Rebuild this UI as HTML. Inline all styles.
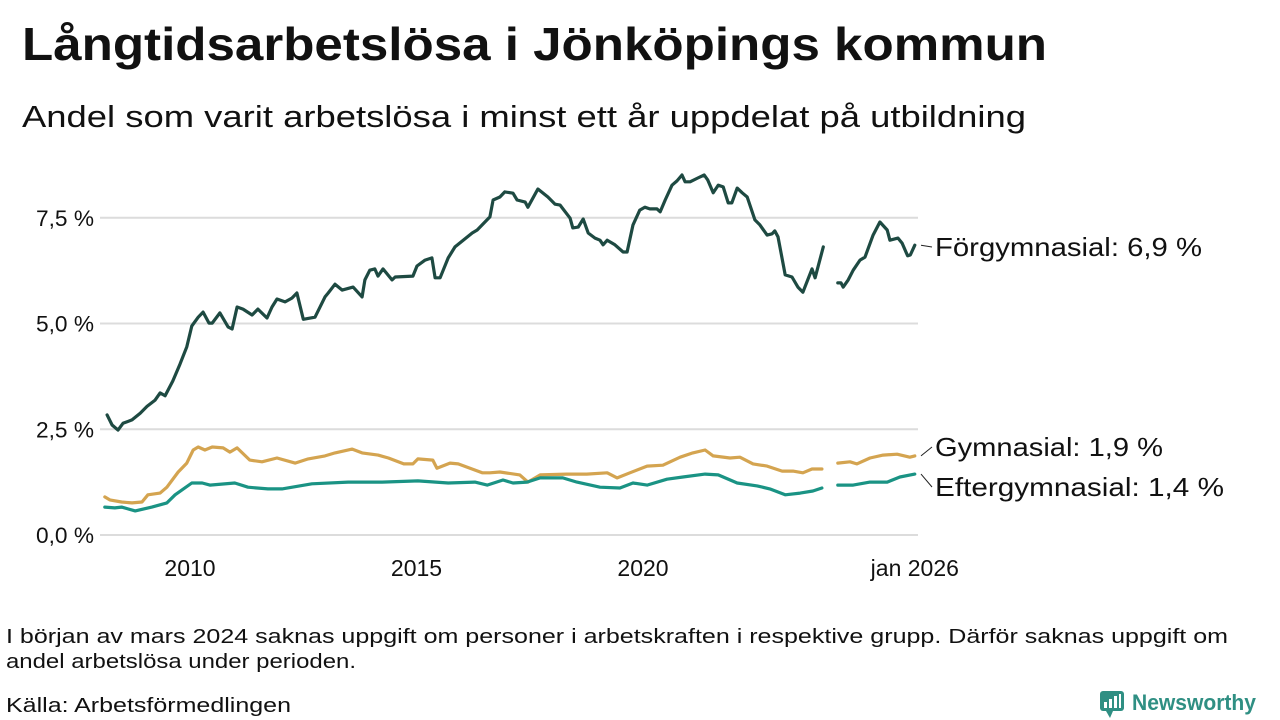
<!DOCTYPE html>
<html><head><meta charset="utf-8">
<style>
html,body{margin:0;padding:0;background:#fff;width:1280px;height:720px;overflow:hidden}
svg{display:block;font-family:"Liberation Sans","DejaVu Sans",sans-serif}
</style></head>
<body>
<svg id="chart" width="1280" height="720" viewBox="0 0 1280 720">
<text x="22" y="60" font-size="46" font-weight="bold" fill="#111" textLength="1025" lengthAdjust="spacingAndGlyphs">Långtidsarbetslösa i Jönköpings kommun</text>
<text x="22" y="127" font-size="31" fill="#111" textLength="1004" lengthAdjust="spacingAndGlyphs">Andel som varit arbetslösa i minst ett år uppdelat på utbildning</text>
<g id="grid"></g>
<g id="yticks"></g>
<g id="xticks"></g>
<g id="series"></g>
<g id="labels"></g>
<text font-size="20" fill="#111"><tspan x="6" y="643" textLength="1222" lengthAdjust="spacingAndGlyphs">I början av mars 2024 saknas uppgift om personer i arbetskraften i respektive grupp. Därför saknas uppgift om</tspan><tspan x="6" y="668" textLength="350" lengthAdjust="spacingAndGlyphs">andel arbetslösa under perioden.</tspan></text>
<text x="6" y="712" font-size="20" fill="#111" textLength="285" lengthAdjust="spacingAndGlyphs">Källa: Arbetsförmedlingen</text>
<g>
<rect x="1100" y="691" width="24" height="20" rx="3" fill="#2f8f83"/>
<path d="M1106 711 L1110 718 L1113 711 Z" fill="#2f8f83"/>
<rect x="1104" y="702" width="3" height="6" fill="#fff"/><rect x="1109" y="699" width="3" height="9" fill="#fff"/><rect x="1114" y="696" width="3" height="12" fill="#fff"/><rect x="1119" y="694" width="2" height="14" fill="#fff"/>
<text x="1132" y="710" font-size="22" font-weight="bold" fill="#2f8f83" textLength="124" lengthAdjust="spacingAndGlyphs">Newsworthy</text>
</g>
</svg>
<script>
const yTicks = [0, 2.5, 5, 7.5];
const yTickLabels = ["0,0 %", "2,5 %", "5,0 %", "7,5 %"];
const xTicks = [2010, 2015, 2020, 2026];
const xTickLabels = ["2010", "2015", "2020", "jan 2026"];

const forDates = [2008.17,2008.28,2008.41,2008.52,2008.72,2008.90,2009.05,2009.23,2009.34,2009.45,2009.62,2009.78,2009.93,2010.04,2010.18,2010.29,2010.42,2010.49,2010.66,2010.84,2010.93,2011.04,2011.17,2011.37,2011.50,2011.70,2011.81,2011.92,2012.10,2012.25,2012.36,2012.50,2012.76,2012.98,2013.05,2013.20,2013.36,2013.60,2013.80,2013.86,2013.97,2014.08,2014.15,2014.26,2014.46,2014.53,2014.92,2015.01,2015.19,2015.34,2015.41,2015.52,2015.59,2015.70,2015.85,2016.23,2016.34,2016.62,2016.69,2016.84,2016.95,2017.13,2017.22,2017.40,2017.46,2017.68,2017.90,2018.06,2018.17,2018.39,2018.45,2018.57,2018.68,2018.79,2018.94,2019.05,2019.12,2019.21,2019.38,2019.56,2019.65,2019.78,2019.93,2020.04,2020.15,2020.31,2020.38,2020.49,2020.64,2020.75,2020.86,2020.93,2021.04,2021.21,2021.35,2021.43,2021.55,2021.66,2021.77,2021.88,2021.96,2022.08,2022.19,2022.30,2022.47,2022.58,2022.74,2022.85,2022.91,2022.98,2023.14,2023.29,2023.42,2023.53,2023.73,2023.80,2023.98,2024.15,2024.30,2024.37,2024.42,2024.53,2024.64,2024.79,2024.90,2025.08,2025.23,2025.39,2025.45,2025.63,2025.72,2025.84,2025.90,2026.00];
const forValues = [2.84,2.60,2.48,2.64,2.72,2.88,3.04,3.19,3.36,3.29,3.64,4.04,4.45,4.94,5.15,5.27,5.01,5.01,5.25,4.92,4.87,5.39,5.34,5.20,5.34,5.13,5.39,5.58,5.51,5.60,5.72,5.10,5.15,5.63,5.72,5.93,5.79,5.86,5.63,6.03,6.26,6.29,6.12,6.29,6.03,6.10,6.12,6.36,6.50,6.55,6.08,6.08,6.26,6.55,6.81,7.14,7.21,7.52,7.92,7.99,8.11,8.08,7.92,7.87,7.75,8.18,7.99,7.82,7.80,7.49,7.26,7.28,7.47,7.14,7.02,6.97,6.86,6.97,6.86,6.69,6.69,7.33,7.68,7.75,7.71,7.71,7.64,7.92,8.27,8.37,8.51,8.35,8.35,8.44,8.51,8.39,8.09,8.27,8.23,7.85,7.85,8.20,8.09,7.99,7.45,7.33,7.09,7.12,7.19,7.05,6.15,6.10,5.86,5.74,6.29,6.08,6.81,null,5.96,5.96,5.86,6.03,6.26,6.50,6.57,7.09,7.40,7.21,6.97,7.02,6.90,6.60,6.62,6.85];

const gymDates = [2008.12,2008.23,2008.49,2008.72,2008.94,2009.07,2009.34,2009.49,2009.74,2009.93,2010.07,2010.18,2010.33,2010.49,2010.73,2010.88,2011.04,2011.32,2011.59,2011.92,2012.32,2012.61,2012.98,2013.20,2013.58,2013.80,2014.15,2014.38,2014.72,2014.92,2015.03,2015.36,2015.45,2015.74,2015.92,2016.45,2016.62,2016.84,2017.28,2017.46,2017.73,2018.32,2018.76,2019.21,2019.43,2019.71,2020.09,2020.44,2020.82,2021.10,2021.37,2021.55,2021.92,2022.14,2022.43,2022.74,2023.07,2023.31,2023.53,2023.73,2023.95,2024.15,2024.30,2024.57,2024.72,2025.01,2025.30,2025.61,2025.89,2026.00];
const gymValues = [0.90,0.83,0.78,0.76,0.78,0.95,0.99,1.13,1.49,1.70,2.01,2.08,2.01,2.08,2.06,1.96,2.06,1.77,1.73,1.82,1.70,1.80,1.87,1.94,2.03,1.94,1.89,1.82,1.68,1.68,1.80,1.77,1.58,1.70,1.68,1.47,1.47,1.49,1.42,1.25,1.42,1.44,1.44,1.47,1.35,1.47,1.63,1.65,1.84,1.94,2.01,1.87,1.82,1.84,1.68,1.63,1.51,1.51,1.47,1.56,1.56,null,1.70,1.73,1.68,1.82,1.89,1.91,1.84,1.87];

const eftDates = [2008.12,2008.34,2008.49,2008.79,2009.16,2009.49,2009.67,2010.04,2010.27,2010.44,2010.99,2011.28,2011.72,2012.03,2012.69,2013.49,2014.24,2015.03,2015.70,2016.29,2016.56,2016.91,2017.13,2017.44,2017.73,2018.23,2018.54,2019.05,2019.49,2019.78,2020.09,2020.53,2020.88,2021.37,2021.66,2022.08,2022.52,2022.80,2023.14,2023.47,2023.75,2023.95,2024.15,2024.30,2024.64,2025.01,2025.39,2025.67,2026.00];
const eftValues = [0.66,0.64,0.66,0.57,0.66,0.76,0.95,1.23,1.23,1.18,1.23,1.13,1.09,1.09,1.21,1.25,1.25,1.28,1.23,1.25,1.18,1.30,1.23,1.25,1.35,1.35,1.25,1.13,1.11,1.23,1.18,1.32,1.37,1.44,1.42,1.23,1.16,1.09,0.95,0.99,1.04,1.11,null,1.18,1.18,1.25,1.25,1.37,1.44];

const seriesNames = ["Förgymnasial: 6,9 %", "Gymnasial: 1,9 %", "Eftergymnasial: 1,4 %"];
const seriesColors = ["#1e4a42", "#d4a450", "#1a9384"];

const X0 = 190, PXY = 45.3, Y0 = 535, PXV = 42.3;
function xs(t){ return X0 + (t - 2010) * PXY; }
function ys(v){ return Y0 - v * PXV; }
const NS = "http://www.w3.org/2000/svg";
function mk(tag, attrs, parent){ const e = document.createElementNS(NS, tag); for (const k in attrs) e.setAttribute(k, attrs[k]); parent.appendChild(e); return e; }

const grid = document.getElementById('grid');
const yg = document.getElementById('yticks');
yTicks.forEach((v, i) => {
  const l = mk('line', {x1: 100, x2: 918, y1: ys(v), y2: ys(v), stroke: '#dcdcdc', 'stroke-width': 2}, grid);
  
  
  const t = mk('text', {x: 94, y: ys(v) + 8, 'text-anchor': 'end', 'font-size': 22, fill: '#111', textLength: 58, lengthAdjust: 'spacingAndGlyphs'}, yg);
  
  
  t.textContent = yTickLabels[i];
});
const xg = document.getElementById('xticks');
xTicks.forEach((t, i) => {
  const e = mk('text', {x: xs(t), y: 576, 'text-anchor': 'middle', 'font-size': 23, fill: '#111'}, xg);
  
  
  e.textContent = xTickLabels[i];
});

const sg = document.getElementById('series');
function drawLine(dates, vals, color, name){
  let d = '', pen = false;
  for (let i = 0; i < dates.length; i++) {
    if (vals[i] === null) { pen = false; continue; }
    d += (pen ? 'L' : 'M') + xs(dates[i]).toFixed(1) + ' ' + ys(vals[i]).toFixed(1) + ' ';
    pen = true;
  }
  const p = mk('path', {d: d, fill: 'none', stroke: color, 'stroke-width': 3.2, 'stroke-linejoin': 'round', 'stroke-linecap': 'round'}, sg);
  
  
}
drawLine(gymDates, gymValues, seriesColors[1], 'line-gymnasial');
drawLine(eftDates, eftValues, seriesColors[2], 'line-eftergymnasial');
drawLine(forDates, forValues, seriesColors[0], 'line-forgymnasial');

const lg = document.getElementById('labels');
const lastVals = [forValues[forValues.length-1], gymValues[gymValues.length-1], eftValues[eftValues.length-1]];
const labelY = [247, 447, 487];
const labelW = [267, 228, 289];
lastVals.forEach((v, i) => {
  const l = mk('line', {x1: 921, y1: ys(v), x2: 932, y2: labelY[i], stroke: '#222', 'stroke-width': 1}, lg);
  
  
  const t = mk('text', {x: 935, y: labelY[i] + 9, 'font-size': 26, fill: '#111', textLength: labelW[i], lengthAdjust: 'spacingAndGlyphs'}, lg);
  
  
  t.textContent = seriesNames[i];
});
</script>
</body></html>
